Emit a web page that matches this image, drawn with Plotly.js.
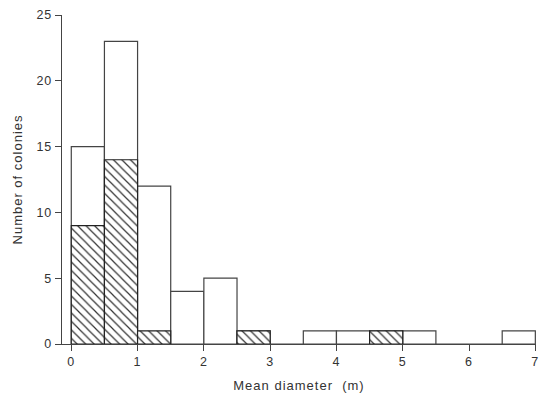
<!DOCTYPE html>
<html><head><meta charset="utf-8">
<script src="https://cdn.plot.ly/plotly-3.0.1.min.js"></script>
<style>html,body{margin:0;padding:0;background:#fff}#c{width:542px;height:394px}
#c text.xtitle,#c text.ytitle,#c g.xtick text,#c g.ytick text{letter-spacing:1px}</style>
</head><body><div id="c"></div>
<script>
var binCenters = [0.25,0.75,1.25,1.75,2.25,2.75,3.25,3.75,4.25,4.75,5.25,5.75,6.25,6.75];
var totalColonies = [15,23,12,4,5,1,0,1,1,1,1,0,0,1];
var hatchedColonies = [9,14,1,0,0,1,0,0,0,1,0,0,0,0];
var xTicks = [0,1,2,3,4,5,6,7];
var yTicks = [0,5,10,15,20,25];

var lineCol = '#444';
var traces = [
  {type:'bar', x:binCenters, y:totalColonies, width:0.5,
   marker:{color:'rgba(255,255,255,1)', line:{color:lineCol, width:1.2}}, hoverinfo:'none'},
  {type:'bar', x:binCenters, y:hatchedColonies.map(function(v){return v===0?null:v;}), width:0.5,
   marker:{color:'#fff', line:{color:'#222', width:1.2},
     pattern:{shape:'\\', fgcolor:'#333', bgcolor:'#fff', size:6, solidity:0.2}}, hoverinfo:'none'}
];
var layout = {
  width:542, height:394, barmode:'overlay', showlegend:false,
  paper_bgcolor:'#fff', plot_bgcolor:'#fff',
  margin:{l:62, r:6, t:15, b:50},
  font:{family:'"Liberation Sans", Arial, sans-serif', size:12.5, color:'#333'},
  xaxis:{range:[-0.14,7.01], tickvals:xTicks, ticktext:xTicks.map(String), ticks:'outside', ticklen:6, tickcolor:lineCol,
    ticklabeloverflow:'allow',
    showline:true, linecolor:lineCol, linewidth:1.2, showgrid:false, zeroline:false,
    title:{text:'Mean diameter  (m)', font:{size:13, color:'#333'}, standoff:12}},
  yaxis:{range:[0,25], tickvals:yTicks, ticktext:yTicks.map(String), ticks:'outside', ticklen:6, tickcolor:lineCol,
    showline:true, linecolor:lineCol, linewidth:1.2, showgrid:false, zeroline:false,
    title:{text:'Number of colonies', font:{size:13, color:'#333'}, standoff:12}}
};
Plotly.newPlot('c', traces, layout, {displayModeBar:false, staticPlot:true});
</script></body></html>
